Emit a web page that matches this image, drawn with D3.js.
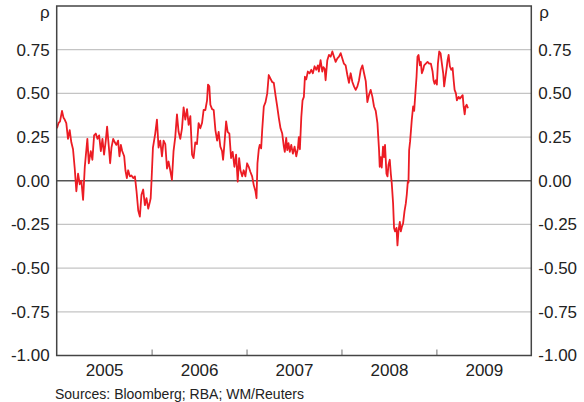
<!DOCTYPE html>
<html>
<head>
<meta charset="utf-8">
<script src="https://cdn.jsdelivr.net/npm/d3@7"></script>
<style>
  html, body { margin: 0; padding: 0; background: #fff; }
  svg { display: block; }
  text { font-family: "Liberation Sans", Arial, Helvetica, sans-serif; fill: #222; }
</style>
</head>
<body>
<svg id="chart" width="584" height="402"></svg>
<script>
// ---- data ----
const years = [2005, 2006, 2007, 2008, 2009];
const yTicks = [-1, -0.75, -0.5, -0.25, 0, 0.25, 0.5, 0.75];
const unitLabel = "ρ";
const sourceNote = "Sources: Bloomberg; RBA; WM/Reuters";

const dates = [
2005.003,2005.019,2005.035,2005.056,2005.072,2005.084,2005.101,2005.119,2005.137,2005.154,
2005.172,2005.190,2005.207,2005.225,2005.243,2005.260,2005.278,2005.296,2005.323,2005.338,
2005.359,2005.376,2005.394,2005.412,2005.429,2005.447,2005.465,2005.482,2005.499,2005.517,
2005.531,2005.549,2005.563,2005.577,2005.595,2005.612,2005.629,2005.647,2005.661,2005.676,
2005.690,2005.711,2005.724,2005.739,2005.753,2005.771,2005.788,2005.806,2005.824,2005.841,
2005.859,2005.876,2005.893,2005.911,2005.929,2005.946,2005.964,2005.982,2005.990,2005.999,
2006.014,2006.038,2006.056,2006.073,2006.091,2006.109,2006.126,2006.144,2006.162,2006.178,
2006.196,2006.214,2006.231,2006.249,2006.267,2006.284,2006.302,2006.320,2006.337,2006.355,
2006.373,2006.390,2006.408,2006.426,2006.442,2006.460,2006.478,2006.495,2006.513,2006.531,
2006.548,2006.566,2006.584,2006.594,2006.608,2006.619,2006.637,2006.654,2006.672,2006.690,
2006.706,2006.724,2006.742,2006.753,2006.767,2006.785,2006.801,2006.819,2006.837,2006.854,
2006.872,2006.890,2006.907,2006.922,2006.936,2006.954,2006.970,2006.988,2007.006,2007.023,
2007.041,2007.059,2007.076,2007.094,2007.105,2007.115,2007.129,2007.139,2007.154,2007.165,
2007.182,2007.200,2007.218,2007.234,2007.252,2007.270,2007.287,2007.305,2007.323,2007.340,
2007.358,2007.376,2007.393,2007.403,2007.418,2007.429,2007.442,2007.456,2007.471,2007.488,
2007.506,2007.524,2007.541,2007.551,2007.562,2007.577,2007.590,2007.604,2007.615,2007.629,
2007.646,2007.664,2007.682,2007.699,2007.717,2007.735,2007.752,2007.762,2007.780,2007.798,
2007.809,2007.823,2007.833,2007.851,2007.868,2007.886,2007.904,2007.921,2007.939,2007.957,
2007.974,2007.992,2008.009,2008.026,2008.044,2008.062,2008.079,2008.097,2008.115,2008.132,
2008.150,2008.168,2008.185,2008.203,2008.221,2008.238,2008.256,2008.273,2008.290,2008.308,
2008.326,2008.343,2008.361,2008.379,2008.396,2008.403,2008.414,2008.424,2008.438,2008.449,
2008.459,2008.474,2008.485,2008.495,2008.509,2008.520,2008.530,2008.544,2008.554,2008.565,
2008.580,2008.590,2008.601,2008.615,2008.625,2008.636,2008.649,2008.664,2008.678,2008.688,
2008.699,2008.706,2008.713,2008.723,2008.734,2008.741,2008.755,2008.766,2008.776,2008.791,
2008.801,2008.812,2008.826,2008.836,2008.847,2008.861,2008.871,2008.889,2008.907,2008.924,
2008.942,2008.960,2008.970,2008.981,2008.995,2009.005,2009.016,2009.030,2009.044,2009.058,
2009.072,2009.082,2009.093,2009.108,2009.118,2009.129,2009.142,2009.156,2009.171,2009.182,
2009.192,2009.206,2009.216,2009.234,2009.248,2009.262,2009.277,2009.287,2009.298,2009.308,
2009.319,2009.333
];

const correlation = [
0.30,0.33,0.34,0.40,0.36,0.35,0.33,0.24,0.29,0.22,
0.18,0.07,-0.06,0.04,-0.02,0.00,-0.11,0.08,0.24,0.10,
0.17,0.12,0.26,0.27,0.24,0.26,0.17,0.24,0.15,0.23,
0.31,0.195,0.10,0.19,0.24,0.22,0.205,0.23,0.14,0.205,
0.17,0.14,0.06,0.015,0.06,0.025,0.03,0.015,0.025,-0.06,
-0.17,-0.205,-0.08,-0.05,-0.14,-0.10,-0.16,-0.12,-0.10,0.00,
0.19,0.27,0.35,0.19,0.23,0.14,0.23,0.21,0.07,0.11,
0.06,0.005,0.17,0.25,0.38,0.28,0.24,0.30,0.42,0.35,
0.41,0.32,0.37,0.15,0.13,0.22,0.21,0.33,0.30,0.33,
0.405,0.405,0.46,0.55,0.54,0.435,0.41,0.405,0.29,0.23,
0.28,0.195,0.17,0.12,0.21,0.34,0.28,0.27,0.13,0.165,
0.08,0.15,-0.005,0.13,0.06,0.025,0.06,0.025,0.10,0.08,
0.05,0.025,-0.025,-0.06,-0.10,0.10,0.18,0.205,0.185,0.29,
0.425,0.45,0.50,0.605,0.585,0.565,0.56,0.49,0.425,0.36,
0.30,0.27,0.195,0.165,0.245,0.175,0.215,0.165,0.205,0.155,
0.195,0.14,0.185,0.25,0.18,0.365,0.46,0.48,0.595,0.58,
0.625,0.615,0.635,0.615,0.655,0.635,0.66,0.625,0.69,0.625,
0.65,0.64,0.575,0.69,0.72,0.71,0.74,0.71,0.68,0.70,
0.71,0.73,0.70,0.67,0.66,0.605,0.56,0.615,0.565,0.54,
0.52,0.54,0.575,0.635,0.66,0.615,0.57,0.45,0.49,0.52,
0.48,0.425,0.40,0.33,0.175,0.08,0.135,0.075,0.195,0.135,
0.205,0.04,0.025,0.09,0.12,0.04,-0.015,-0.13,-0.27,-0.29,
-0.27,-0.37,-0.285,-0.235,-0.29,-0.265,-0.245,-0.175,-0.13,-0.08,
-0.005,-0.01,0.175,0.225,0.30,0.35,0.425,0.40,0.48,0.595,
0.71,0.72,0.66,0.68,0.615,0.635,0.66,0.67,0.68,0.67,
0.67,0.625,0.575,0.555,0.575,0.55,0.67,0.74,0.73,0.67,
0.615,0.54,0.585,0.645,0.69,0.72,0.655,0.635,0.645,0.575,
0.52,0.50,0.46,0.48,0.47,0.48,0.49,0.425,0.38,0.425,
0.435,0.415
];

// ---- layout ----
const L = 56.7, R = 531.3, T = 6, B = 355.5;
const FONT = 17;

const svg = d3.select("#chart");
const x = d3.scaleLinear().domain([2005, 2010]).range([L, R]);
const y = d3.scaleLinear().domain([-1, 1]).range([B, T]);

// gridlines
svg.append("g").selectAll("line")
  .data(yTicks.filter(v => v !== 0 && v !== -1))
  .join("line")
  .attr("x1", L).attr("x2", R)
  .attr("y1", d => y(d)).attr("y2", d => y(d))
  .attr("stroke", "#c4c4c4").attr("stroke-width", 1.3);

// zero line
svg.append("line")
  .attr("x1", L).attr("x2", R)
  .attr("y1", y(0)).attr("y2", y(0))
  .attr("stroke", "#555").attr("stroke-width", 1.6);

// year boundary ticks on bottom axis
const tickAxis = d3.axisBottom(x).tickValues(years.slice(1)).tickSize(-6).tickFormat("");
svg.append("g").attr("transform", `translate(0,${B})`).call(tickAxis)
  .call(g => g.select(".domain").remove())
  .call(g => g.selectAll(".tick line").attr("stroke", "#888").attr("stroke-width", 1.2));

// data line
const line = d3.line().x((d, i) => x(dates[i])).y(d => y(d));
svg.append("path")
  .datum(correlation)
  .attr("d", line)
  .attr("fill", "none")
  .attr("stroke", "#ec1c24")
  .attr("stroke-width", 1.8)
  .attr("stroke-linejoin", "round");

// frame
svg.append("rect")
  .attr("x", L).attr("y", T).attr("width", R - L).attr("height", B - T)
  .attr("fill", "none").attr("stroke", "#444").attr("stroke-width", 1.5);

// y axes labels
const fmt = d => d.toFixed(2);
const leftAxis = d3.axisLeft(y).tickValues(yTicks).tickSize(0).tickPadding(7).tickFormat(fmt);
svg.append("g").attr("transform", `translate(${L},0)`).call(leftAxis)
  .call(g => g.select(".domain").remove())
  .call(g => g.selectAll("text").style("font-size", FONT + "px").style("font-family", "'Liberation Sans', Arial, sans-serif").attr("fill", "#222"));
const rightAxis = d3.axisRight(y).tickValues(yTicks).tickSize(0).tickPadding(7).tickFormat(fmt);
svg.append("g").attr("transform", `translate(${R},0)`).call(rightAxis)
  .call(g => g.select(".domain").remove())
  .call(g => g.selectAll("text").style("font-size", FONT + "px").style("font-family", "'Liberation Sans', Arial, sans-serif").attr("fill", "#222"));

// unit labels
svg.append("text").attr("x", L - 7).attr("y", 18).attr("text-anchor", "end")
  .style("font-size", FONT + "px").text(unitLabel);
svg.append("text").attr("x", R + 8).attr("y", 18).attr("text-anchor", "start")
  .style("font-size", FONT + "px").text(unitLabel);

// year labels
const yearAxis = d3.axisBottom(x).tickValues(years.map(v => v + 0.5)).tickSize(0).tickPadding(8)
  .tickFormat(d => String(Math.floor(d)));
svg.append("g").attr("transform", `translate(0,${B})`).call(yearAxis)
  .call(g => g.select(".domain").remove())
  .call(g => g.selectAll("text").style("font-size", FONT + "px").style("font-family", "'Liberation Sans', Arial, sans-serif").attr("fill", "#222"));

// source note
svg.append("text").attr("x", 55).attr("y", 399)
  .style("font-size", "14px").text(sourceNote);
</script>
</body>
</html>
